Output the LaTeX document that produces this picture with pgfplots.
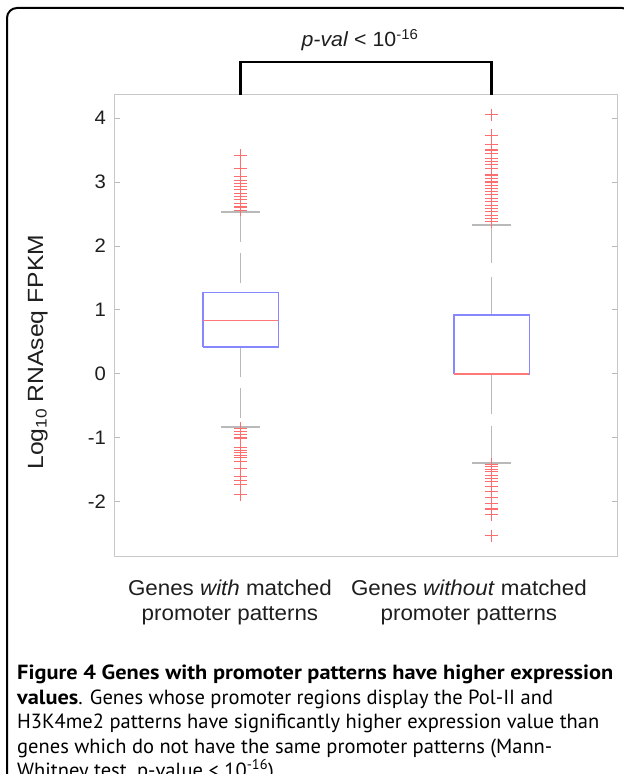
\documentclass[border=0pt]{standalone}
\usepackage{pgfplots}
\pgfplotsset{compat=1.18}
\usepackage{fontspec}
\setmainfont[FakeStretch=1.04]{Liberation Sans}
\newfontfamily\ylabfont[FakeStretch=1.12]{Liberation Sans}
\newfontfamily\capfont[BoldFeatures={FakeStretch=1.09}]{PT Sans}

\definecolor{boxblue}{RGB}{135,135,255}
\definecolor{medred}{RGB}{255,120,120}
\definecolor{outred}{RGB}{255,110,110}
\definecolor{whgray}{RGB}{185,185,185}
\definecolor{framegray}{RGB}{200,200,200}
\definecolor{txt}{RGB}{30,30,30}

\pgfplotsset{
  boxst/.style={draw=boxblue, line width=1.3pt},
  med/.style={draw=medred, line width=1.2pt},
  whisk/.style={draw=whgray, line width=1.3pt},
  outl/.style={only marks, mark=+, mark size=6.3pt,
               mark options={draw=outred, line width=1.1pt, solid}},
}

\begin{document}
\begin{tikzpicture}
\useasboundingbox (0,0) rectangle (624pt,774pt);
\clip (0,0) rectangle (624pt,774pt);

% figure frame
\draw[line width=2pt, rounded corners=10pt] (7pt,766pt) rectangle (632pt,-30pt);

\begin{axis}[
  at={(115pt,217pt)}, anchor=south west,
  scale only axis, width=502pt, height=462pt,
  xmin=0.5, xmax=2.5, ymin=-2.86, ymax=4.36,
  axis line style={draw=framegray, line width=1pt},
  clip=false,
  ytick={-2,-1,0,1,2,3,4},
  yticklabels={-2,-1,0,1,2,3,4},
  ytick pos=both, yticklabel pos=left,
  tick align=inside,
  major tick length=5pt,
  ytick style={draw=whgray, line width=1pt},
  yticklabel style={font=\fontsize{19.5}{23}\selectfont, text=txt, inner sep=0pt, xshift=-9pt},
  xtick={0.958,1.91},
  xticklabels={{Genes \textit{with} matched\\promoter patterns},
               {Genes \textit{without} matched\\promoter patterns}},
  xtick style={draw=none},
  xticklabel style={font=\fontsize{21.5}{25}\selectfont, text=txt, align=center,
                    anchor=north, inner sep=0pt, yshift=-23pt},
  ylabel={Log\textsubscript{10} RNAseq FPKM},
  ylabel style={at={(axis description cs:-0.1434,0.443)}, anchor=base,
                font=\ylabfont\fontsize{22}{25}\selectfont, text=txt},
]

% ---- group 1: genes with matched promoter patterns (x = 1)
% q1 = 0.42, median = 0.83, q3 = 1.27, whiskers -0.83 / 2.53
\addplot[whisk, dash pattern=on 30pt off 11pt] coordinates {(1,2.53) (1,1.27)};
\addplot[whisk, dash pattern=on 30pt off 11pt] coordinates {(1,0.42) (1,-0.83)};
\addplot[whisk] coordinates {(0.9225,2.53) (1.0775,2.53)};
\addplot[whisk] coordinates {(0.9225,-0.83) (1.0775,-0.83)};
\addplot[boxst] coordinates {(0.85,0.42) (1.15,0.42) (1.15,1.27) (0.85,1.27) (0.85,0.42)};
\addplot[med] coordinates {(0.85,0.83) (1.15,0.83)};
\addplot[outl] table[row sep=\\] {
  x y\\
  1 2.56\\ 1 2.61\\ 1 2.67\\ 1 2.72\\ 1 2.77\\ 1 2.82\\ 1 2.88\\ 1 2.93\\ 1 2.98\\
  1 3.03\\ 1 3.08\\ 1 3.21\\ 1 3.41\\
  1 -0.85\\ 1 -0.90\\ 1 -0.95\\ 1 -1.00\\ 1 -1.15\\ 1 -1.19\\ 1 -1.23\\ 1 -1.27\\
  1 -1.31\\ 1 -1.37\\ 1 -1.47\\ 1 -1.60\\ 1 -1.66\\ 1 -1.72\\ 1 -1.89\\
};

% ---- group 2: genes without matched promoter patterns (x = 2)
% q1 = 0.00, median = 0.00, q3 = 0.92, whiskers -1.39 / 2.33
\addplot[whisk, dash pattern=on 38pt off 14pt] coordinates {(2,2.33) (2,0.92)};
\addplot[whisk, dash pattern=on 40pt off 12pt] coordinates {(2,0.0) (2,-1.39)};
\addplot[whisk] coordinates {(1.9225,2.33) (2.0775,2.33)};
\addplot[whisk] coordinates {(1.9225,-1.39) (2.0775,-1.39)};
\addplot[boxst] coordinates {(1.85,0.0) (2.15,0.0) (2.15,0.92) (1.85,0.92) (1.85,0.0)};
\addplot[med] coordinates {(1.85,0.0) (2.15,0.0)};
\addplot[outl] table[row sep=\\] {
  x y\\
  2 2.38\\ 2 2.43\\ 2 2.48\\ 2 2.54\\ 2 2.59\\ 2 2.64\\ 2 2.69\\ 2 2.74\\ 2 2.80\\
  2 2.85\\ 2 2.90\\ 2 2.95\\ 2 3.00\\ 2 3.06\\ 2 3.11\\ 2 3.21\\ 2 3.27\\ 2 3.32\\
  2 3.37\\ 2 3.45\\ 2 3.50\\ 2 3.58\\ 2 3.73\\ 2 4.05\\
  2 -1.41\\ 2 -1.45\\ 2 -1.49\\ 2 -1.53\\ 2 -1.58\\ 2 -1.63\\ 2 -1.68\\ 2 -1.76\\
  2 -1.84\\ 2 -1.93\\ 2 -2.02\\ 2 -2.11\\ 2 -2.20\\ 2 -2.53\\
};

% significance bracket
\addplot[black, line width=2.7pt] coordinates {(1,4.36) (1,4.875) (2,4.875) (2,4.36)};
\end{axis}

\node[anchor=base, inner sep=0pt, font=\fontsize{20.5}{24}\selectfont, text=txt]
  at (360pt,727pt) {\textit{p-val} < 10\textsuperscript{-16}};

% caption
\node[anchor=north west, inner sep=0pt, align=left,
      font=\capfont\fontsize{20.5}{24.4}\selectfont]
  at (17pt,109pt) {%
  \textbf{Figure 4 Genes with promoter patterns have higher expression}\\
  \textbf{values}. Genes whose promoter regions display the Pol-II and\\
  H3K4me2 patterns have significantly higher expression value than\\
  genes which do not have the same promoter patterns (Mann-\\
  Whitney test, p-value < 10\textsuperscript{-16}).};
\end{tikzpicture}
\end{document}
